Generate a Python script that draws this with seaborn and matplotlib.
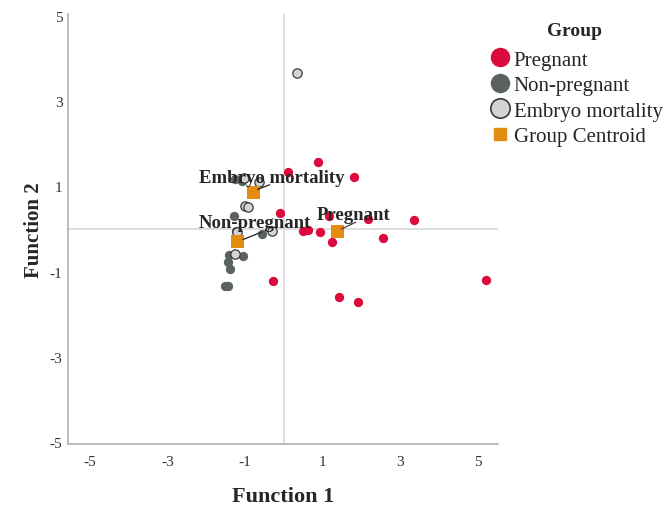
import numpy as np
import pandas as pd
import matplotlib
matplotlib.use("Agg")
import matplotlib.pyplot as plt
from matplotlib.lines import Line2D
import seaborn as sns

# discriminant scores
preg_x = [0.87, 0.09, 1.80, -0.10, 1.17, 2.17, 3.35, 0.50, 0.63, 0.93, 1.24, 2.54, -0.28, 5.20, 1.43, 1.91]
preg_y = [1.58, 1.33, 1.23, 0.38, 0.31, 0.24, 0.22, -0.04, -0.02, -0.08, -0.30, -0.21, -1.22, -1.19, -1.59, -1.72]

nonp_x = [-1.26, -1.08, -1.28, -0.57, -1.25, -1.05, -1.42, -1.44, -1.39, -1.52, -1.44]
nonp_y = [1.18, 1.13, 0.31, -0.12, -0.05, -0.63, -0.62, -0.78, -0.94, -1.33, -1.33]

emb_x = [0.33, -1.03, -0.64, -1.00, -0.94, -1.22, -0.32, -1.26]
emb_y = [3.67, 1.20, 1.11, 0.55, 0.51, -0.08, -0.04, -0.59]

groups = ["Pregnant", "Non-pregnant", "Embryo mortality"]
cent_x = [1.37, -1.21, -0.80]
cent_y = [-0.05, -0.28, 0.87]

ticks = [-5, -3, -1, 1, 3, 5]

colors = {"Pregnant": "#DC0A3C", "Non-pregnant": "#59625F", "Embryo mortality": "#D4D4D4"}
edges = {"Pregnant": "#DC0A3C", "Non-pregnant": "#59625F", "Embryo mortality": "#3a3a3a"}
cent_color = "#E38C10"

df = pd.concat([
    pd.DataFrame({"f1": preg_x, "f2": preg_y, "group": "Pregnant"}),
    pd.DataFrame({"f1": nonp_x, "f2": nonp_y, "group": "Non-pregnant"}),
    pd.DataFrame({"f1": emb_x, "f2": emb_y, "group": "Embryo mortality"}),
])
cent = pd.DataFrame({"f1": cent_x, "f2": cent_y, "group": groups})

sns.set_style("white")
plt.rcParams["font.family"] = ["Liberation Serif", "DejaVu Serif"]
plt.rcParams["axes.unicode_minus"] = False

fig = plt.figure(figsize=(6.66, 5.06), dpi=100)
ax = fig.add_axes([0.102, 0.121, 0.646, 0.849])

ax.axhline(0, color="#d8d8d8", lw=1.2, zorder=0)
ax.axvline(0, color="#d8d8d8", lw=1.2, zorder=0)

for g in groups:
    sub = df[df["group"] == g]
    sns.scatterplot(data=sub, x="f1", y="f2", ax=ax, color=colors[g], edgecolor=edges[g],
                    linewidth=0.9 if g == "Embryo mortality" else 0, s=45, zorder=3, legend=False)

sns.scatterplot(data=cent, x="f1", y="f2", ax=ax, marker="s", color=cent_color,
                edgecolor=cent_color, s=80, zorder=4, legend=False)

# centroid labels with short leader lines
lab_pos = {"Pregnant": (0.84, 0.33), "Non-pregnant": (-2.2, 0.15), "Embryo mortality": (-2.2, 1.20)}
for g in groups:
    tx, ty = lab_pos[g]
    ax.text(tx, ty, g, fontsize=13.5, fontweight="bold", ha="left", va="center", zorder=6)
ax.plot([-0.68, -0.37], [0.93, 1.04], color="#222", lw=0.9, zorder=5)
ax.plot([-1.06, -0.57], [-0.25, -0.07], color="#222", lw=0.9, zorder=5)
ax.plot([1.48, 1.85], [0.0, 0.16], color="#444", lw=0.9, zorder=5)

ax.set_xlim(-5.57, 5.52)
ax.set_ylim(-5.05, 5.05)
ax.set_xticks(ticks)
ax.set_yticks(ticks)
ax.tick_params(axis="both", length=0, labelsize=11, colors="#333333")
ax.tick_params(axis="x", pad=8)
ax.tick_params(axis="y", pad=4)
ax.set_xlabel("Function 1", fontsize=16, fontweight="bold", labelpad=13)
ax.set_ylabel("Function 2", fontsize=15, fontweight="bold", labelpad=4)
sns.despine(ax=ax)
for s in ["left", "bottom"]:
    ax.spines[s].set_color("#b0b0b0")
    ax.spines[s].set_linewidth(1.2)

handles = [Line2D([], [], ls="", marker="o", ms=14, mfc=colors[g], mec=edges[g],
                  mew=1.2 if g == "Embryo mortality" else 0) for g in groups]
handles.append(Line2D([], [], ls="", marker="s", ms=8, mfc=cent_color, mec=cent_color))
leg = fig.legend(handles, groups + ["Group Centroid"], loc="upper left",
                 bbox_to_anchor=(0.718, 0.971), frameon=False, title="Group",
                 fontsize=15, handletextpad=0.0, labelspacing=0.28, handlelength=1.3,
                 borderaxespad=0)
leg.get_title().set_fontweight("bold")
leg.get_title().set_fontsize(14)
leg._legend_box.sep = 8

fig.savefig("out.png", dpi=100)
